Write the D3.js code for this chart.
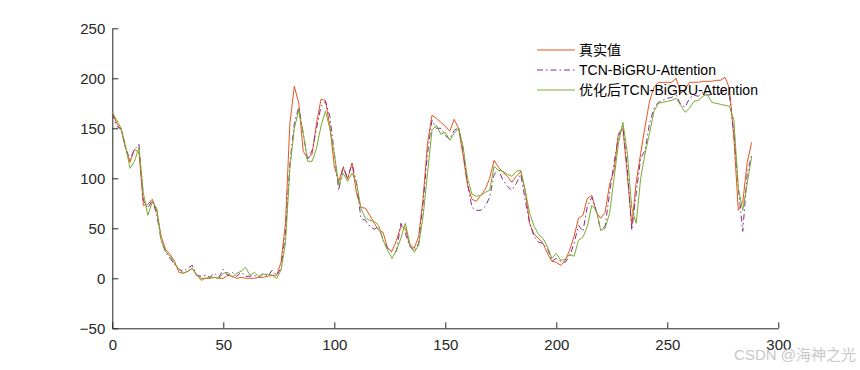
<!DOCTYPE html>
<html lang="zh">
<head>
    <meta charset="UTF-8">
    <title>TCN-BiGRU-Attention 预测对比</title>
    <style>
        body {
            margin: 0;
            background: #ffffff;
            font-family: "Liberation Sans", Arial, sans-serif;
        }
        svg {
            display: block;
        }
        .axis path,
        .axis line {
            stroke: #262626;
        }
        .axis text {
            fill: #262626;
            font-size: 15px;
            font-family: "Liberation Sans", Arial, sans-serif;
        }
    </style>
</head>
<body>
    <svg width="860" height="370"></svg>
    <script src="https://d3js.org/d3.v7.min.js"></script>
    <script>
        // sample index, one value every 2 steps
        const sampleIdx = d3.range(0, 289, 2);

        const trueValues = [
            166, 155, 149, 130, 116, 129, 126, 73, 74, 79,
            68, 42, 29, 24, 17, 6, 5, 7, 10, 3,
            0, 0, 0, 1, 0, 0, 3, 2, 0, 1,
            0, 0, 0, 1, 1, 2, 3, 3, 16, 55,
            155, 192, 175, 127, 120, 124, 155, 179, 178, 152,
            112, 97, 111, 99, 115, 85, 71, 70, 63, 55,
            48, 46, 30, 27, 38, 52, 50, 33, 30, 42,
            80, 135, 163, 160, 156, 152, 147, 159, 150, 123,
            93, 79, 77, 83, 89, 100, 118, 111, 106, 102,
            96, 102, 107, 87, 55, 44, 40, 35, 25, 17,
            16, 13, 18, 28, 42, 60, 63, 80, 83, 66,
            60, 66, 94, 108, 145, 150, 103, 53, 96, 125,
            152, 177, 191, 196, 196, 196, 196, 200, 185, 189,
            196, 196, 196, 197, 197, 197, 198, 198, 201, 190,
            140, 68, 76, 116, 136
        ];

        const tcnValues = [
            165, 152, 149, 130, 119, 129, 134, 78, 70, 78,
            64, 38, 26, 20, 14, 9, 7, 10, 13, 3,
            2, 3, 1, 5, 1, 9, 3, 6, 2, 6,
            2, 2, 3, 1, 5, 2, 8, 3, 10, 45,
            115, 155, 171, 145, 118, 128, 150, 172, 177, 162,
            125, 88, 112, 100, 115, 95, 60, 58, 52, 49,
            52, 38, 30, 26, 27, 55, 45, 32, 27, 35,
            75, 125, 158, 150, 150, 143, 139, 148, 151, 128,
            95, 71, 68, 68, 72, 81, 104, 108, 98, 92,
            88, 95, 104, 78, 55, 42, 36, 35, 30, 17,
            20, 17, 16, 22, 35, 53, 47, 72, 81, 68,
            48, 52, 85, 115, 142, 152, 110, 48, 85, 120,
            128, 155, 170, 176, 178, 180, 181, 183, 174, 171,
            180, 183, 182, 186, 183, 184, 184, 185, 188, 182,
            145, 90, 47, 105, 123
        ];

        const optValues = [
            166, 158, 150, 132, 110, 117, 131, 85, 63, 76,
            70, 38, 27, 22, 15, 9, 5, 7, 10, 4,
            -2, 0, 1, 1, 0, 5, 6, 1, 5, 7,
            11, 3, 6, 2, 4, 4, 3, 0, 8, 35,
            110, 150, 168, 145, 117, 117, 130, 152, 167, 150,
            125, 93, 105, 97, 105, 96, 70, 60, 58, 57,
            53, 38, 28, 20, 28, 40, 55, 35, 26, 33,
            62, 105, 148, 153, 144, 146, 138, 145, 150, 132,
            100, 84, 82, 83, 86, 88, 112, 108, 107, 104,
            102, 107, 108, 88, 65, 52, 44, 40, 32, 20,
            25, 18, 19, 24, 22, 38, 41, 52, 73, 68,
            48, 50, 65, 100, 135, 156, 125, 70, 55, 100,
            125, 145, 167, 175, 176, 177, 178, 180, 173, 166,
            170, 177, 178, 182, 184, 176, 175, 174, 173, 172,
            158, 90, 68, 95, 122
        ];

        const xTicks = [0, 50, 100, 150, 200, 250, 300];
        const yTicks = [-50, 0, 50, 100, 150, 200, 250];
        const seriesNames = ["真实值", "TCN-BiGRU-Attention", "优化后TCN-BiGRU-Attention"];

        const svg = d3.select("svg");

        const x = d3.scaleLinear().domain([0, 300]).range([112.3, 778.3]);
        const y = d3.scaleLinear().domain([-50, 250]).range([328.3, 28.3]);

        svg.append("g")
            .attr("class", "axis")
            .attr("transform", `translate(0,${y(-50)})`)
            .call(d3.axisBottom(x).tickValues(xTicks).tickSizeInner(-6).tickSizeOuter(0).tickPadding(11));

        svg.append("g")
            .attr("class", "axis")
            .attr("transform", `translate(${x(0)},0)`)
            .call(d3.axisLeft(y).tickValues(yTicks).tickSizeInner(-6).tickSizeOuter(0).tickPadding(7));

        const series = [
            { name: seriesNames[0], values: trueValues, color: "#e8541e", dash: null },
            { name: seriesNames[1], values: tcnValues, color: "#7e2f8e", dash: "6,3,1.5,3" },
            { name: seriesNames[2], values: optValues, color: "#77ac30", dash: null }
        ];

        const line = d3.line()
            .x((d, i) => x(sampleIdx[i]))
            .y(d => y(d));

        svg.append("g")
            .selectAll("path")
            .data(series)
            .join("path")
            .attr("fill", "none")
            .attr("stroke", d => d.color)
            .attr("stroke-width", 1)
            .attr("stroke-dasharray", d => d.dash)
            .attr("d", d => line(d.values));

        // legend, no box around it
        const legend = svg.append("g").attr("transform", "translate(537,50)");
        const items = legend.selectAll("g")
            .data(series)
            .join("g")
            .attr("transform", (d, i) => `translate(0,${i * 20})`);

        items.append("line")
            .attr("x1", 0).attr("x2", 38)
            .attr("stroke", d => d.color)
            .attr("stroke-width", 1)
            .attr("stroke-dasharray", d => d.dash);

        items.append("text")
            .attr("x", 42)
            .attr("dy", "0.35em")
            .attr("font-size", 14)
            .attr("font-family", "'Liberation Sans', 'Noto Sans CJK SC', sans-serif")
            .attr("fill", "#000")
            .text(d => d.name);

        // watermark
        svg.append("text")
            .attr("x", 856)
            .attr("y", 360)
            .attr("text-anchor", "end")
            .attr("font-size", 15)
            .attr("font-family", "'Liberation Sans', 'Noto Sans CJK SC', sans-serif")
            .attr("fill", "#c8c8c8")
            .text("CSDN @海神之光");
    </script>
</body>
</html>
